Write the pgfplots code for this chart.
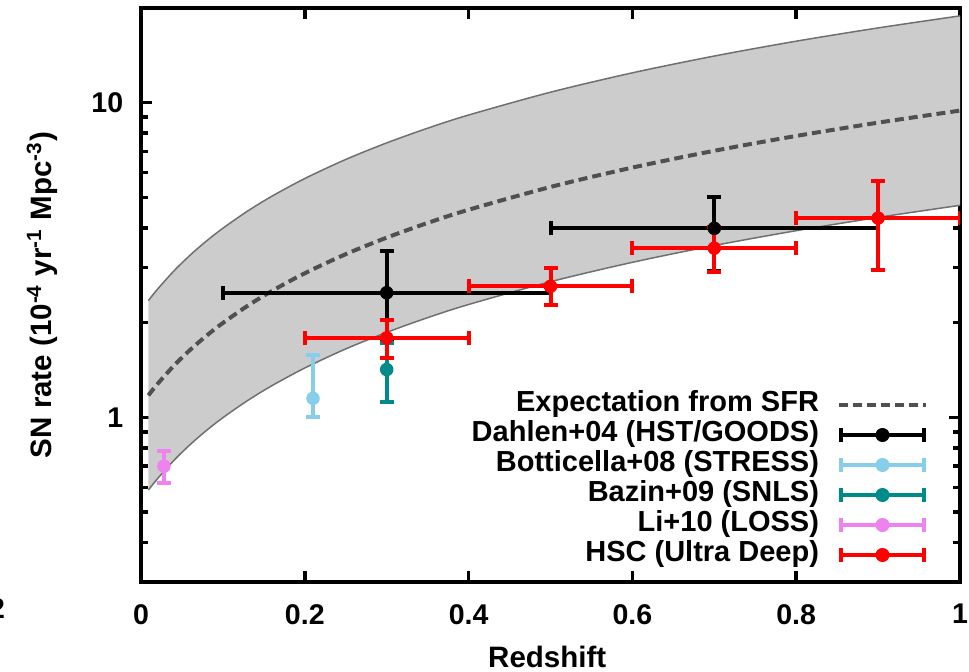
\documentclass[border=0pt]{standalone}
\usepackage{fontspec}
\setmainfont{Liberation Sans}
\usepackage{pgfplots}
\pgfplotsset{compat=1.18}
\usepgfplotslibrary{fillbetween}
\usepackage{pgfplotstable}

\definecolor{bandgray}{RGB}{204,204,204}
\definecolor{linegray}{RGB}{112,112,112}
\definecolor{dashgray}{RGB}{80,80,80}
\definecolor{skyb}{RGB}{135,206,235}
\definecolor{tealc}{RGB}{0,139,139}
\definecolor{violc}{RGB}{238,130,238}

\pgfplotstableread{
x     mid     up       lo
0.009 1.1754  2.3510   0.5877
0.02  1.2764  2.5528   0.6382
0.04  1.4588  2.9176   0.7294
0.06  1.6397  3.2794   0.8199
0.08  1.8189  3.6378   0.9095
0.10  1.9968  3.9936   0.9984
0.13  2.2617  4.5234   1.1309
0.16  2.5244  5.0488   1.2622
0.20  2.8720  5.7440   1.4360
0.25  3.3022  6.6044   1.6511
0.30  3.7272  7.4544   1.8636
0.35  4.1501  8.3002   2.0751
0.40  4.5697  9.1394   2.2849
0.50  5.3999  10.7998  2.6999
0.60  6.2225  12.4450  3.1113
0.70  7.0364  14.0728  3.5182
0.80  7.8437  15.6874  3.9218
0.90  8.6432  17.2864  4.3216
1.00  9.4406  18.8812  4.7203
}\sfr

\pgfplotstableread{
x   y    ex  ep   em
0.3 2.49 0.2 0.89 0.75
0.7 3.99 0.2 1.03 1.06
}\dahlen
\pgfplotstableread{
x    y    ex ep   em
0.21 1.15 0  0.43 0.15
}\botti
\pgfplotstableread{
x   y    ex ep   em
0.3 1.42 0  0.31 0.30
}\bazin
\pgfplotstableread{
x     y    ex ep    em
0.028 0.70 0  0.085 0.08
}\li
\pgfplotstableread{
x   y    ex  ep   em
0.3 1.79 0.1 0.25 0.25
0.5 2.61 0.1 0.37 0.34
0.7 3.45 0.1 0.58 0.55
0.9 4.30 0.1 1.34 1.36
}\hsc

\pgfplotsset{
  dat/.style={only marks, mark=*, mark size=2.5pt, color=#1,
    mark options={solid, fill=#1, draw=#1}, forget plot},
  errs/.style={error bars/.cd, y dir=both, y explicit,
    error bar style={line width=1.6pt},
    error mark options={rotate=90, line width=1.6pt, mark size=2.8pt}},
  errsxy/.style={error bars/.cd, x dir=both, x explicit, y dir=both, y explicit,
    error bar style={line width=1.6pt},
    error mark options={rotate=90, line width=1.6pt, mark size=2.8pt}},
  errleg/.style={legend image code/.code={
    \draw[line width=1.6pt,color=#1] (0pt,0pt) -- (34.8pt,0pt);
    \draw[line width=1.6pt,color=#1] (0.8pt,-2.8pt) -- (0.8pt,2.8pt);
    \draw[line width=1.6pt,color=#1] (34pt,-2.8pt) -- (34pt,2.8pt);
    \fill[color=#1] (17.4pt,0pt) circle (2.6pt);}},
  dashleg/.style={legend image code/.code={
    \draw[line width=1.6pt,color=dashgray,dash pattern=on 3.6pt off 2pt] (0pt,0pt) -- (34.8pt,0pt);}},
}

\begin{document}
\begin{tikzpicture}
\begin{axis}[
  name=ax,
  set layers,
  scale only axis,
  width=327.6pt, height=229.6pt,
  xmin=0, xmax=1,
  ymode=log, ymin=0.3, ymax=20,
  xtick={0,0.2,0.4,0.6,0.8,1},
  xticklabels={0,0.2,0.4,0.6,0.8,1},
  ytick={1,10}, yticklabels={1,10},
  minor ytick={0.4,0.5,0.6,0.7,0.8,0.9,2,3,4,5,6,7,8,9},
  tick align=inside,
  major tick length=4.4pt, minor tick length=2.8pt,
  every tick/.style={line width=1.4pt, black},
  axis line style={line width=1.4pt},
  /pgf/number format/assume math mode=true,
  tick label style={font=\fontsize{11.4}{13}\selectfont\bfseries},
  xticklabel style={yshift=-5.4pt},
  yticklabel style={xshift=-3.6pt},
  every axis x label/.style={at={(axis description cs:0.496,-0.1498)}, anchor=base,
    font=\fontsize{11.8}{13}\selectfont\bfseries},
  every axis y label/.style={at={(axis description cs:-0.1087,0.5)}, rotate=90, anchor=base,
    font=\fontsize{11.8}{13}\selectfont\bfseries},
  xlabel={Redshift},
  ylabel={SN rate (10\textsuperscript{-4} yr\textsuperscript{-1} Mpc\textsuperscript{-3})},
  legend style={draw=none, fill=none, at={(rel axis cs:1,0)}, anchor=south east,
    xshift=-12.8pt, yshift=4.8pt, inner sep=0pt, outer sep=0pt,
    row sep=0pt, column sep=7.2pt,
    font=\fontsize{11.6}{13}\selectfont\bfseries,
    nodes={inner sep=0pt, text height=8.6pt, text depth=3.4pt}},
  legend cell align=right,
  legend plot pos=right,
]
\addplot[name path=up, linegray, line width=0.6pt, smooth, forget plot] table[x=x,y=up]{\sfr};
\addplot[name path=lo, linegray, line width=0.6pt, smooth, forget plot] table[x=x,y=lo]{\sfr};
\addplot[bandgray, forget plot] fill between[of=up and lo];
\addplot[dashgray, line width=1.6pt, dash pattern=on 3.6pt off 2pt, smooth, forget plot] table[x=x,y=mid]{\sfr};

\addplot[dat=black, errsxy] table[x=x,y=y,x error=ex,y error plus=ep,y error minus=em]{\dahlen};
\addplot[dat=skyb, errs] table[x=x,y=y,y error plus=ep,y error minus=em]{\botti};
\addplot[dat=tealc, errs] table[x=x,y=y,y error plus=ep,y error minus=em]{\bazin};
\addplot[dat=violc, errs] table[x=x,y=y,y error plus=ep,y error minus=em]{\li};
\addplot[dat=red, errsxy] table[x=x,y=y,x error=ex,y error plus=ep,y error minus=em]{\hsc};

\addlegendimage{dashleg}
\addlegendentry{Expectation from SFR}
\addlegendimage{errleg=black}
\addlegendentry{Dahlen+04 (HST/GOODS)}
\addlegendimage{errleg=skyb}
\addlegendentry{Botticella+08 (STRESS)}
\addlegendimage{errleg=tealc}
\addlegendentry{Bazin+09 (SNLS)}
\addlegendimage{errleg=violc}
\addlegendentry{Li+10 (LOSS)}
\addlegendimage{errleg=red}
\addlegendentry{HSC (Ultra Deep)}
\end{axis}
\node[anchor=base east, inner sep=0pt, font=\fontsize{11.4}{13}\selectfont\bfseries] at ([xshift=-54.2pt,yshift=-14.4pt]ax.south west) {2};
\pgfresetboundingbox
\path[use as bounding box] ([xshift=-56.4pt,yshift=-35.6pt]ax.south west) rectangle ([xshift=3.6pt,yshift=3.2pt]ax.north east);
\end{tikzpicture}
\end{document}
